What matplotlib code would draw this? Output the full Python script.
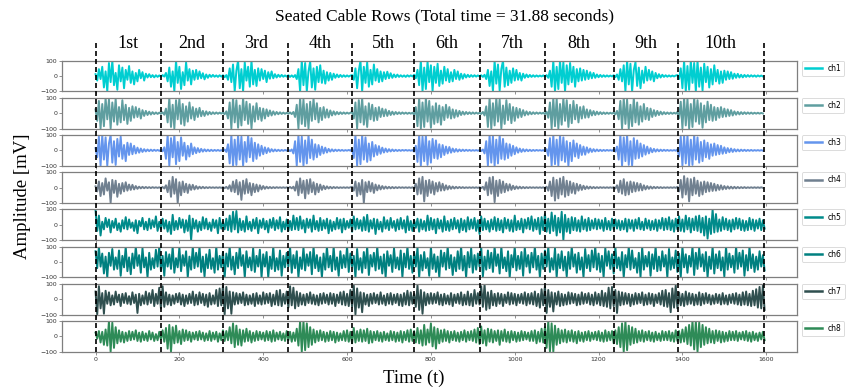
import numpy as np
import matplotlib
matplotlib.use("Agg")
import matplotlib.pyplot as plt
from matplotlib.lines import Line2D
from matplotlib.transforms import blended_transform_factory

# ---------------- data ----------------
title = "Seated Cable Rows (Total time = 31.88 seconds)"
step = 4  # sample spacing (time units) of the stored points

ch1 = [12, -30, 45, -20, 60, -75, 30, -100, 85, -40, 100, -60, 20, -90, 70, -35, 55, -80, 40, -25,
       65, -45, 30, -55, 20, -35, 40, -15, 25, -30, 15, -10, 12, -8, 6, -9, 5, -6, 4,
       -5, 6, -4, 20, -35, 55, -70, 30, -100, 100, -45, 60, -85, 25, -60, 90, -30, 45, -55, 35,
       -25, 40, -20, 30, -15, 18, -22, 10, -12, 8, -6, 7, -5, 4, -6, 5, -4,
       5, -8, 6, -25, 50, -40, 75, -100, 35, 100, -80, 45, -100, 90, -30, 60, -70, 100, -55, 40,
       -65, 50, -30, 45, -20, 35, -40, 25, -18, 30, -15, 12, -10, 8, -6, 7, -5, 4, -4,
       5, -6, 4, -7, 6, -20, 45, -100, 100, -60, 85, -100, 30, 95, -75, 50, -90, 60, -40, 70,
       -45, 35, -50, 25, -30, 20, -25, 15, -12, 10, -8, 7, -6, 5, -5, 4, -4, 3,
       6, -25, 50, -80, 35, 100, -100, 60, -45, 90, -70, 40, -55, 75, -30, 45, -40, 30, -35, 25,
       -20, 28, -15, 18, -12, 10, -8, 9, -6, 5, -5, 4, -6, 5, -4, 4, -3,
       8, -15, 40, -60, 100, -100, 55, -85, 95, -40, 70, -100, 60, -45, 80, -65, 35, -50, 60, -30,
       45, -40, 25, -35, 40, -20, 30, -25, 15, -18, 12, -10, 8, -7, 6, -5, 5, -4, 4, -3,
       5, -6, 8, -20, 40, -65, 30, -100, 100, -50, 75, -95, 45, 100, -70, 55, -60, 35, -45, 50,
       -30, 40, -25, 20, -30, 15, -12, 10, -8, 7, -6, 5, -5, 4, -4, 3, -3, 4,
       -5, 6, -12, 35, -70, 100, -100, 60, -85, 100, -45, 90, -100, 70, -55, 85, -40, 60, -70, 45,
       -35, 50, -30, 40, -25, 35, -20, 25, -15, 20, -12, 10, -8, 7, -6, 5, -5, 4, -4, 3, -3,
       5, -8, 10, -25, 45, -35, 70, -100, 100, -55, 80, -100, 40, 90, -65, 55, -80, 35, -45, 60,
       -30, 40, -25, 30, -35, 20, -15, 12, -10, 8, -6, 5, -5, 4, -4, 3, -3, 3,
       6, -20, 50, -80, 100, -100, 65, -90, 100, -45, 85, -100, 100, -70, 55, -95, 80, -40, 60, -75,
       45, -55, 70, -35, 40, -50, 30, -45, 35, -25, 30, -20, 25, -18, 15, -12, 14, -10, 8, -9,
       7, -6, 6, -5, 5, -4, 4, -5, 4, -3, 3, -3]

ch2 = [25, -50, 80, -100, 60, -85, 100, -40, 90, -100, 70, -55, 95, -75, 40, -60, 85, -45, 55, -70,
       35, -50, 45, -30, 40, -25, 30, -35, 20, -18, 15, -12, 10, -9, 7, -6, 5, -5, 4,
       -4, 6, -10, 30, -60, 100, -90, 55, -100, 85, -40, 95, -70, 60, -80, 45, -55, 70, -35, 40,
       -45, 30, -25, 35, -20, 15, -18, 12, -10, 8, -7, 6, -5, 5, -4, 4, -3,
       5, -7, 12, -35, 70, -100, 100, -60, 85, -95, 50, -80, 100, -45, 75, -70, 60, -100, 45, -55,
       65, -40, 35, -50, 30, -35, 25, -20, 18, -15, 12, -10, 8, -7, 6, -5, 4, -4, 3,
       -4, 5, -6, 8, -25, 55, -100, 100, -70, 90, -85, 60, -100, 75, -50, 95, -40, 65, -60, 35,
       -45, 40, -30, 25, -28, 18, -15, 12, -10, 8, -7, 6, -5, 5, -4, 4, -3, 3,
       8, -35, 70, -100, 85, -60, 100, -75, 45, -90, 65, -40, 55, -50, 35, -45, 40, -25, 30, -20,
       25, -18, 15, -12, 10, -9, 8, -6, 6, -5, 5, -4, 4, -4, 3, -3, 3,
       -10, 40, -85, 100, -100, 70, -90, 100, -55, 80, -95, 45, -70, 65, -60, 50, -75, 40, -45, 55,
       -30, 40, -35, 25, -30, 20, -22, 15, -12, 10, -9, 8, -6, 6, -5, 5, -4, 4, -3, 3,
       -5, 8, -15, 45, -90, 100, -100, 65, -80, 100, -55, 90, -100, 50, -70, 85, -45, 60, -65, 40,
       -50, 35, -30, 28, -25, 20, -15, 12, -10, 8, -7, 6, -5, 5, -4, 4, -3, 3,
       -6, 10, -30, 70, -100, 100, -85, 95, -100, 60, -75, 100, -50, 85, -90, 55, -65, 80, -40, 55,
       -60, 40, -35, 45, -30, 25, -28, 20, -15, 14, -12, 10, -8, 7, -6, 5, -5, 4, -4, 3, -3,
       5, -8, 15, -40, 80, -100, 100, -70, 90, -100, 55, -85, 100, -60, 70, -75, 45, -55, 60, -40,
       35, -45, 30, -25, 20, -18, 15, -12, 10, -8, 7, -6, 5, -5, 4, -4, 3, -3,
       8, -35, 75, -100, 100, -80, 95, -100, 60, -90, 100, -55, 85, -70, 65, -95, 50, -60, 75, -45,
       55, -50, 40, -45, 35, -30, 40, -25, 30, -22, 25, -18, 20, -15, 12, -10, 9, -8, 7, -6,
       6, -5, 5, -4, 4, -4, 3, -3, 3, -3, 2, -2]

ch3 = [15, -45, 90, -100, 100, -60, 85, -100, 45, 100, -80, 60, -95, 75, -40, 90, -55, 35, -70, 50,
       -30, 45, -25, 30, -20, 18, -15, 12, -10, 8, -7, 6, -5, 5, -4, 4, -3, 3, -3,
       4, -6, 20, -55, 100, -100, 80, -45, 100, -90, 55, -70, 85, -35, 50, -60, 30, -40, 45, -25,
       20, -18, 15, -12, 10, -8, 7, -6, 5, -5, 4, -4, 3, -3, 3, -3, 2,
       -4, 6, -10, 40, -85, 100, -100, 70, -95, 100, -60, 90, -100, 55, -75, 100, -45, 80, -70, 50,
       -55, 40, -35, 30, -25, 20, -18, 15, -10, 8, -7, 6, -5, 4, -4, 3, -3, 3, -2,
       4, -5, 6, -20, 60, -100, 100, -75, 90, -100, 65, -85, 100, -50, 70, -60, 40, -45, 35, -30,
       25, -20, 18, -14, 10, -8, 7, -6, 5, -4, 4, -3, 3, -3, 2, -2, 3, -2,
       10, -50, 100, -100, 70, -90, 100, -60, 85, -75, 45, -65, 55, -40, 35, -30, 28, -22, 18, -14,
       12, -10, 8, -7, 6, -5, 4, -4, 3, -3, 3, -2, 3, -2, 2, -2, 2,
       -8, 30, -75, 100, -100, 90, -70, 100, -95, 60, -80, 75, -50, 65, -55, 40, -45, 35, -30, 25,
       -20, 22, -15, 12, -10, 9, -8, 6, -5, 5, -4, 4, -3, 3, -3, 2, -2, 2, -2, 2,
       -4, 6, -20, 60, -100, 100, -80, 95, -100, 70, -85, 100, -55, 75, -60, 45, -50, 40, -35, 30,
       -25, 20, -15, 12, -10, 8, -7, 6, -5, 4, -4, 3, -3, 3, -2, 2, -2, 2,
       -5, 8, -35, 80, -100, 100, -90, 70, -100, 100, -65, 85, -75, 60, -100, 50, -70, 65, -40, 45,
       -50, 35, -30, 25, -28, 20, -15, 12, -10, 8, -7, 6, -5, 4, -4, 3, -3, 3, -2, 2, -2,
       4, -8, 25, -60, 100, -100, 85, -70, 100, -95, 60, -100, 80, -55, 65, -50, 45, -40, 35, -28,
       25, -20, 15, -12, 10, -8, 7, -6, 5, -4, 4, -3, 3, -3, 2, -2, 2, -2,
       6, -40, 90, -100, 100, -85, 100, -100, 70, -95, 100, -60, 85, -80, 55, -70, 65, -45, 50, -55,
       40, -35, 45, -30, 35, -25, 30, -22, 20, -18, 15, -12, 12, -10, 8, -7, 6, -6, 5, -4,
       4, -4, 3, -3, 3, -3, 2, -2, 2, -2, 2, -2]

ch4 = [8, -25, 40, -55, 30, -45, 60, -20, 35, -100, 50, -35, 45, -60, 25, -40, 30, -25, 35, -20,
       20, -15, 18, -12, 10, -8, 6, -5, 5, -4, 4, -3, 3, -3, 3, -2, 2, -2, 2,
       -3, 4, -6, 15, -30, 45, -60, 70, -40, 55, -100, 35, -50, 40, -30, 25, -35, 20, -15, 18,
       -12, 10, -8, 6, -5, 5, -4, 3, -3, 3, -2, 2, -2, 2, -2, 2, -2,
       3, -4, 5, -8, 15, -25, 40, -30, 50, -45, 35, -80, 45, -40, 55, -35, 30, -50, 25, -30,
       20, -25, 15, -12, 10, -8, 6, -5, 4, -4, 3, -3, 3, -2, 2, -2, 2, -2, 2,
       -3, 4, -5, 6, -20, 40, -50, 60, -35, 45, -70, 50, -40, 55, -30, 35, -45, 25, -30, 20,
       -15, 12, -10, 8, -6, 5, -5, 4, -3, 3, -3, 2, -2, 2, -2, 2, -2, 2,
       5, -20, 40, -55, 30, -45, 50, -100, 35, -30, 40, -25, 30, -35, 20, -18, 15, -12, 10, -8,
       7, -6, 5, -5, 4, -4, 3, -3, 3, -2, 2, -2, 2, -2, 2, -2, 2,
       -6, 25, -45, 60, -40, 70, -90, 45, -55, 50, -35, 40, -45, 30, -25, 35, -20, 25, -18, 15,
       -12, 10, -8, 7, -6, 5, -4, 4, -3, 3, -3, 2, -2, 2, -2, 2, -2, 2, -2, 2,
       -3, 5, -15, 35, -50, 65, -40, 70, -95, 45, -55, 50, -35, 40, -30, 25, -20, 22, -15, 12,
       -10, 8, -7, 6, -5, 4, -4, 3, -3, 3, -2, 2, -2, 2, -2, 2, -2, 2,
       -4, 6, -20, 40, -55, 65, -85, 50, -70, 60, -45, 70, -60, 45, -50, 40, -35, 30, -40, 25,
       -20, 18, -15, 12, -10, 8, -7, 6, -5, 4, -4, 3, -3, 3, -2, 2, -2, 2, -2, 2, -2,
       3, -6, 15, -30, 45, -40, 55, -50, 35, -45, 40, -30, 35, -25, 30, -20, 25, -18, 15, -12,
       10, -8, 7, -6, 5, -4, 4, -3, 3, -3, 2, -2, 2, -2, 2, -2, 2, -2,
       5, -25, 50, -65, 75, -45, 60, -90, 55, -50, 65, -40, 45, -55, 35, -45, 40, -30, 35, -25,
       30, -22, 25, -20, 18, -15, 15, -12, 10, -9, 8, -7, 6, -6, 5, -5, 4, -4, 3, -3,
       3, -3, 2, -2, 2, -2, 2, -2, 2, -2, 2, -2]

ch5 = [95, -40, 60, -70, 20, -30, 45, -15, 35, -50, 25, -20, 40, -35, 10, -45, 30, -25, 50, -30,
       35, -20, 15, -40, 30, -55, 25, -10, 45, -30, 20, -35, 40, -25, 30, -15, 55, -40, 20, -30,
       40, -25, 30, -45, 20, -60, 65, -35, 25, -30, 45, -20, 35, -50, 30, -40, 60, -100, 40, -25,
       30, -45, 20, -35, 50, -25, 40, -30, 15, -40, 35, -20, 30, -55, 45, -25, 20, -30, 40, -35,
       60, -45, 85, -30, 90, -50, 40, -35, 25, -45, 55, -30, 20, -40, 35, -25, 45, -55, 30, -20,
       40, -30, 25, -50, 35, -20, 45, -35, 30, -25, 50, -45, 20, -30, 35, -40, 25, -35, 60, -30,
       45, -35, 55, -25, 30, -50, 40, -20, 35, -45, 60, -30, 25, -40, 45, -35, 30, -25, 40, -55,
       30, -40, 20, -30, 45, -25, 35, -50, 40, -30, 25, -20, 35, -45, 55, -30, 40, -25, 30, -40,
       50, -35, 65, -45, 30, -25, 40, -60, 35, -30, 20, -45, 50, -25, 30, -35, 45, -20, 25, -40,
       35, -30, 45, -25, 30, -50, 55, -35, 25, -40, 30, -20, 40, -45, 35, -30, 25, -40, 60, -35,
       45, -30, 35, -55, 40, -25, 30, -45, 55, -35, 25, -40, 35, -30, 45, -25, 30, -50, 40, -35,
       30, -45, 50, -30, 35, -25, 45, -40, 30, -60, 55, -35, 40, -30, 25, -45, 35, -30, 50, -40,
       40, -35, 30, -50, 45, -25, 35, -40, 30, -45, 60, -35, 25, -30, 40, -50, 35, -25, 45, -30,
       55, -40, 35, -30, 45, -60, 50, -35, 70, -45, 40, -55, 80, -40, 60, -70, 45, -50, 85, -100,
       65, -45, 40, -55, 50, -35, 45, -40, 30, -45, 55, -30, 35, -40, 45, -35, 30, -25, 40, -30,
       35, -25, 30, -40, 45, -30, 25, -35, 40, -30, 35, -25, 30, -35, 25, -30, 40, -45, 35, -25,
       30, -40, 35, -25, 45, -30, 20, -35, 40, -25, 30, -35, 25, -30, 35, -40, 30, -25, 45, -35,
       40, -30, 50, -35, 30, -45, 40, -30, 55, -40, 35, -45, 60, -30, 45, -50, 40, -35, 55, -40,
       60, -50, 45, -70, 55, -90, 40, -60, 100, -50, 70, -45, 35, -40, 50, -30, 40, -35, 30, -45,
       35, -30, 45, -25, 40, -35, 30, -40, 25, -35, 45, -30, 35, -40, 30, -25, 40, -35, 30, -25]

ch6 = [70, -40, 100, -30, 55, -75, 35, -100, 60, -25, 85, -50, 30, -45, 75, -90, 40, -35, 100, -60,
       30, -80, 55, -40, 100, -25, 45, -70, 90, -35, 30, -100, 60, -50, 25, -40, 80, -30, 100, -55,
       40, -90, 65, -30, 50, -45, 100, -70, 25, -35, 95, -60, 45, -25, 70, -100, 35, -50, 100, -40,
       60, -30, 100, -65, 35, -95, 50, -40, 80, -45, 25, -70, 100, -50, 40, -35, 65, -100, 55, -30,
       100, -50, 35, -80, 60, -40, 100, -25, 45, -100, 70, -35, 30, -55, 90, -65, 40, -30, 80, -100,
       50, -30, 65, -100, 35, -45, 100, -60, 25, -50, 75, -90, 40, -35, 60, -30, 100, -70, 45, -40,
       70, -100, 30, -45, 95, -55, 50, -25, 65, -80, 100, -40, 45, -60, 30, -100, 55, -50, 100, -35,
       40, -60, 100, -50, 30, -90, 70, -40, 45, -35, 100, -65, 55, -30, 40, -100, 85, -50, 25, -70,
       65, -40, 100, -85, 45, -30, 60, -55, 100, -45, 35, -75, 50, -100, 70, -25, 45, -65, 90, -40,
       30, -50, 75, -100, 55, -35, 100, -45, 40, -70, 60, -30, 95, -100, 45, -55, 65, -40, 25, -90,
       100, -45, 50, -65, 35, -100, 75, -30, 60, -50, 100, -40, 45, -85, 30, -60, 70, -45, 100, -55,
       40, -100, 65, -35, 90, -70, 45, -50, 55, -30, 100, -95, 35, -50, 75, -40, 60, -65, 100, -25,
       50, -75, 100, -40, 30, -60, 70, -100, 45, -35, 100, -55, 40, -45, 65, -90, 95, -30, 45, -70,
       60, -35, 100, -50, 40, -100, 55, -45, 75, -30, 100, -65, 25, -50, 90, -100, 50, -40, 70, -55,
       35, -95, 65, -45, 100, -30, 50, -70, 60, -50, 30, -100, 85, -40, 45, -60, 75, -35, 100, -50,
       55, -65, 40, -100, 90, -25, 70, -45, 50, -75, 100, -40, 30, -55, 65, -100, 45, -35, 100, -50,
       75, -40, 25, -70, 60, -100, 95, -50, 40, -30, 65, -90, 50, -45, 100, -60, 35, -55, 70, -30,
       45, -100, 85, -50, 30, -40, 75, -65, 55, -100, 100, -35, 50, -70, 40, -30, 100, -85, 60, -45,
       90, -30, 50, -60, 65, -100, 35, -45, 100, -75, 50, -40, 70, -55, 30, -95, 100, -50, 55, -35,
       40, -70, 100, -45, 60, -30, 75, -90, 45, -55, 100, -40, 50, -65, 35, -50, 70, -30, 45, -55]

ch7 = [50, -100, 85, -60, 40, -95, 55, -30, 45, -40, 25, -35, 50, -20, 30, -45, 35, -25, 40, -30,
       20, -35, 45, -25, 30, -90, 35, -40, 25, -30, 50, -35, 40, -25, 60, -45, 35, -30, 75, -60,
       85, -50, 45, -35, 30, -40, 25, -30, 35, -20, 40, -35, 30, -45, 25, -30, 35, -25, 50, -40,
       30, -35, 45, -25, 35, -40, 30, -50, 40, -35, 25, -30, 60, -45, 70, -40, 90, -100, 80, -60,
       50, -95, 45, -35, 40, -30, 35, -25, 45, -40, 30, -35, 25, -30, 35, -45, 40, -30, 25, -35,
       45, -30, 35, -25, 40, -45, 30, -35, 55, -40, 60, -45, 35, -30, 50, -55, 85, -40, 75, -60,
       50, -45, 40, -35, 30, -40, 35, -25, 45, -30, 30, -35, 25, -40, 35, -30, 40, -25, 30, -35,
       40, -30, 35, -45, 30, -25, 45, -35, 50, -40, 35, -45, 60, -50, 90, -100, 70, -55, 45, -85,
       40, -35, 30, -45, 35, -30, 40, -25, 30, -35, 45, -30, 25, -40, 35, -30, 40, -35, 30, -25,
       35, -40, 30, -45, 40, -35, 55, -40, 45, -30, 35, -50, 90, -70, 60, -95, 45, -40, 35, -30,
       40, -30, 35, -25, 45, -35, 30, -40, 35, -30, 25, -35, 40, -45, 30, -25, 35, -30, 45, -40,
       30, -35, 50, -40, 35, -45, 60, -30, 40, -35, 85, -50, 95, -70, 45, -60, 55, -40, 35, -45,
       40, -30, 35, -45, 30, -25, 45, -35, 40, -30, 35, -40, 30, -25, 35, -30, 45, -40, 35, -30,
       40, -35, 50, -45, 35, -55, 65, -40, 85, -90, 60, -50, 45, -80, 40, -35, 50, -45, 35, -40,
       30, -35, 45, -30, 40, -25, 35, -40, 30, -35, 45, -30, 35, -25, 40, -35, 30, -40, 45, -30,
       35, -40, 55, -45, 40, -50, 75, -60, 80, -45, 60, -90, 50, -40, 45, -35, 40, -30, 35, -45,
       30, -35, 40, -30, 35, -25, 45, -40, 30, -35, 40, -30, 35, -45, 30, -25, 40, -35, 55, -45,
       60, -50, 40, -85, 70, -55, 90, -60, 45, -40, 35, -45, 50, -35, 40, -30, 35, -40, 30, -35,
       45, -40, 35, -30, 40, -25, 30, -35, 25, -30, 35, -25, 30, -35, 40, -30, 25, -35, 30, -25,
       35, -30, 40, -35, 30, -40, 45, -35, 50, -40, 35, -45, 55, -40, 65, -55, 80, -60, 90, -70]

ch8 = [25, -15, 35, -40, 30, -55, 45, -60, 100, -100, 90, -75, 60, -45, 40, -35, 30, -40, 25, -30,
       35, -25, 30, -20, 40, -30, 25, -35, 30, -25, 20, -30, 35, -20, 25, -30, 15, -25, 30, -20,
       40, -35, 55, -80, 75, -100, 60, -45, 70, -40, 35, -50, 45, -30, 40, -25, 30, -35, 25, -20,
       30, -25, 35, -20, 25, -30, 20, -25, 35, -30, 25, -20, 30, -35, 20, -25, 40, -30, 35, -25,
       60, -45, 85, -70, 70, -55, 45, -60, 40, -35, 50, -30, 35, -40, 25, -30, 35, -25, 30, -20,
       25, -30, 35, -25, 30, -35, 40, -30, 25, -20, 30, -25, 20, -30, 35, -25, 30, -35, 25, -30,
       50, -60, 100, -100, 100, -90, 85, -70, 60, -55, 45, -40, 35, -30, 40, -25, 30, -35, 25, -30,
       35, -25, 30, -40, 25, -30, 20, -25, 35, -30, 40, -35, 30, -45, 55, -40, 35, -30, 45, -35,
       40, -30, 50, -45, 35, -40, 30, -25, 35, -30, 25, -35, 30, -25, 20, -30, 35, -25, 30, -35,
       25, -30, 35, -40, 30, -25, 40, -35, 45, -30, 35, -40, 55, -45, 40, -60, 75, -55, 45, -40,
       85, -65, 60, -80, 50, -45, 40, -35, 45, -30, 35, -40, 30, -25, 35, -30, 25, -35, 30, -25,
       40, -35, 30, -25, 35, -30, 45, -40, 55, -50, 65, -45, 40, -60, 50, -35, 45, -40, 35, -30,
       40, -55, 35, -30, 45, -35, 30, -40, 35, -25, 30, -35, 25, -30, 35, -25, 30, -20, 25, -30,
       35, -30, 40, -45, 30, -35, 50, -40, 60, -75, 100, -100, 85, -100, 70, -55, 50, -45, 40, -35,
       45, -40, 35, -30, 40, -35, 30, -45, 35, -30, 25, -35, 30, -25, 35, -30, 25, -20, 30, -25,
       35, -30, 25, -35, 40, -30, 30, -25, 35, -45, 40, -50, 60, -70, 85, -100, 100, -90, 70, -55,
       60, -45, 50, -40, 35, -30, 40, -35, 30, -25, 35, -30, 25, -35, 30, -25, 20, -30, 35, -25,
       30, -25, 35, -30, 25, -35, 40, -30, 35, -40, 45, -35, 60, -50, 75, -60, 100, -85, 100, -100,
       90, -70, 75, -55, 60, -45, 50, -40, 35, -45, 40, -30, 35, -40, 30, -35, 25, -30, 35, -25,
       30, -25, 35, -30, 25, -20, 30, -25, 35, -30, 25, -35, 30, -25, 20, -30, 25, -20, 30, -25]

channels = [ch1, ch2, ch3, ch4, ch5, ch6, ch7, ch8]
channel_names = ["ch1", "ch2", "ch3", "ch4", "ch5", "ch6", "ch7", "ch8"]
colors = ["#00CED1", "#5F9EA0", "#6495ED", "#708090", "#008B8B", "#008080", "#2F4F4F", "#2E8B57"]

rep_bounds = [0, 156, 304, 460, 611, 760, 918, 1072, 1236, 1389, 1594]
rep_labels = ["1st", "2nd", "3rd", "4th", "5th", "6th", "7th", "8th", "9th", "10th"]
yticks = [-100, 0, 100]
xticks = [0, 200, 400, 600, 800, 1000, 1200, 1400, 1600]

# ---------------- figure ----------------
serif = ["Liberation Serif", "DejaVu Serif"]
fig, axes = plt.subplots(8, 1, figsize=(8.47, 3.9), dpi=100, sharex=True)
fig.subplots_adjust(left=0.0732, right=0.9413, top=0.8444, bottom=0.0982, hspace=0.215)

spine_col = "#7f7f7f"
for ax, data, name, col in zip(axes, channels, channel_names, colors):
    x = np.arange(len(data)) * step
    ax.plot(x, data, color=col, lw=1.4, label=name)
    ax.set_ylim(-100, 100)
    ax.set_yticks(yticks)
    ax.set_xticks(xticks)
    for s in ax.spines.values():
        s.set_color(spine_col)
        s.set_linewidth(0.9)
    ax.tick_params(axis="both", labelsize=4.5, length=2, width=0.6, color=spine_col,
                   labelcolor="#333333", pad=1.5)
    leg = ax.legend(loc="upper left", bbox_to_anchor=(1.006, 1.0), borderaxespad=0,
                    fontsize=5.5, handlelength=2.2, frameon=True, fancybox=True)
    leg.get_frame().set_edgecolor("#cccccc")
    leg.get_frame().set_linewidth(0.6)
    for lh in leg.get_lines():
        lh.set_linewidth(1.8)

axes[0].set_xlim(-80, 1674)

# dashed repetition separators spanning all panels
trans = blended_transform_factory(axes[-1].transData, fig.transFigure)
for b in rep_bounds:
    fig.add_artist(Line2D([b, b], [0.0974, 0.8905], transform=trans, color="black",
                          lw=1.2, linestyle=(0, (3, 1.8))))

# repetition labels
for i, lab in enumerate(rep_labels):
    mid = (rep_bounds[i] + rep_bounds[i + 1]) / 2
    fig.text(mid, 0.888, lab, transform=trans, ha="center", va="center",
             fontsize=13, family=serif)

fig.text(0.525, 0.957, title, ha="center", va="center", fontsize=12.5, family=serif)
fig.text(0.0266, 0.497, "Amplitude [mV]", ha="center", va="center", rotation=90,
         fontsize=13.5, family=serif)
fig.text(0.489, 0.031, "Time (t)", ha="center", va="center", fontsize=13.5, family=serif)

fig.savefig("out.png", dpi=100)
